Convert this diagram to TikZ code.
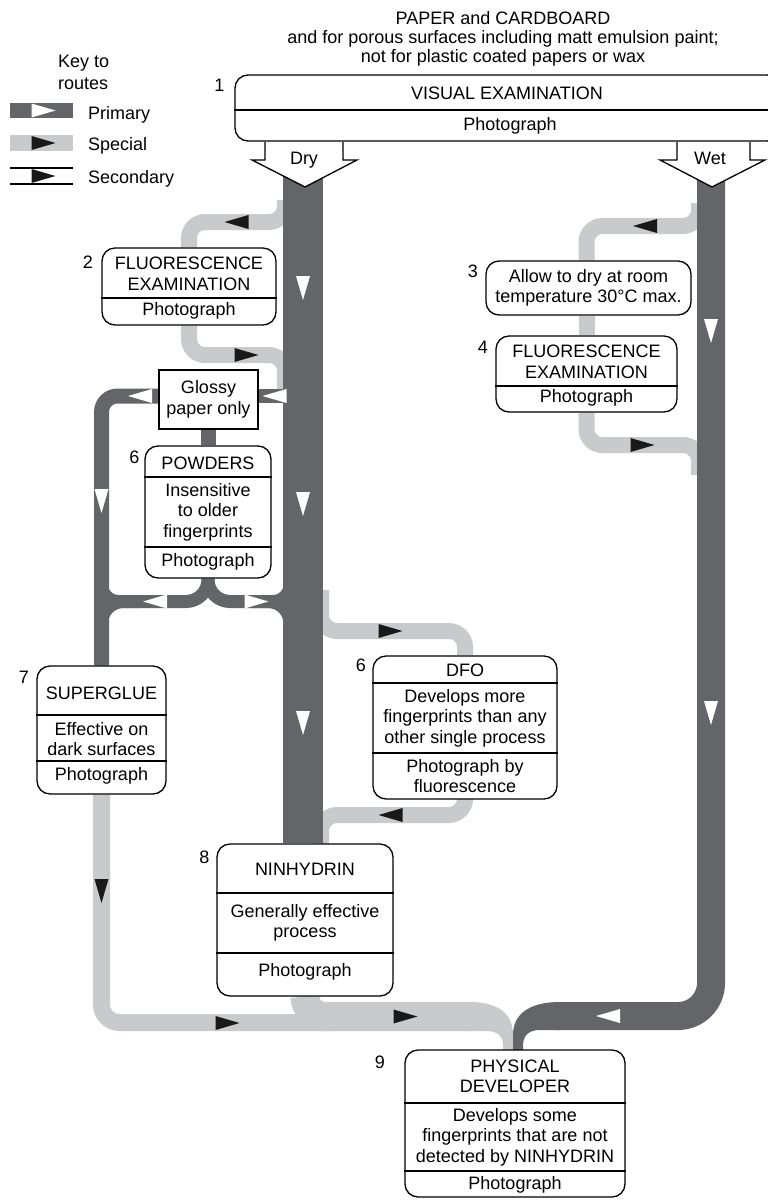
\documentclass[tikz,border=0pt]{standalone}
\usepackage{fontspec}
\setmainfont{Liberation Sans}
\usepackage{tikz}
\definecolor{RouteDark}{RGB}{100,101,104}
\definecolor{RouteLight}{RGB}{201,202,204}
\pgfdeclarelayer{routes}
\pgfsetlayers{routes,main}
\tikzset{
  box/.style={draw=black,fill=white,line width=1.3pt,rounded corners=13pt,inner sep=0pt,align=center},
  plainbox/.style={draw=black,fill=white,line width=1.3pt,inner sep=0pt,align=center},
  rule/.style={draw=black,line width=1.1pt},
  txt/.style={align=center,inner sep=0pt},
  num/.style={inner sep=0pt},
  prim/.style={draw=RouteDark,line width=15pt,rounded corners=16pt},
  spec/.style={draw=RouteLight,line width=16pt,rounded corners=16pt},
  bigarrow/.style={draw=black,fill=white,line width=1.3pt},
}
\tikzset{parr/.pic={\fill[white] (-12,-7) -- (12,0) -- (-12,7) -- cycle;},
  sarr/.pic={\fill[black!90] (-12,-7) -- (12,0) -- (-12,7) -- cycle;}}

\begin{document}
\begin{tikzpicture}[x=1pt,y=-1pt,font=\fontsize{18}{20.5}\selectfont]
\useasboundingbox (0,0) rectangle (768,1200);

% 1 visual examination
\node[box,minimum width=545pt,minimum height=66pt] (visual) at (507.5,108) {};
\draw[rule] (visual.west |- 0,110) -- (visual.east |- 0,110);
\node[txt] (visualname) at (507,93) {VISUAL EXAMINATION};
\node[txt] (visualphoto) at (510,126) {Photograph};
\node[num] (n1) at (219.5,85) {1};

% 2 fluorescence, dry side
\node[box,minimum width=174pt,minimum height=77pt] (fluordry) at (189,286.5) {};
\draw[rule] (fluordry.west |- 0,298) -- (fluordry.east |- 0,298);
\node[txt] (fluordryname) at (189,274) {FLUORESCENCE\\EXAMINATION};
\node[txt] (fluordryphoto) at (189,311) {Photograph};
\node[num] (n2) at (88,262.5) {2};

% glossy paper
\node[plainbox,minimum width=99pt,minimum height=59pt] (glossy) at (208.5,399.5) {Glossy\\paper only};

% 6 powders
\node[box,minimum width=126pt,minimum height=132pt] (powders) at (208,512) {};
\draw[rule] (powders.west |- 0,477) -- (powders.east |- 0,477);
\draw[rule] (powders.west |- 0,547) -- (powders.east |- 0,547);
\node[txt] (powdersname) at (208,463) {POWDERS};
\node[txt] (powdersnote) at (208,512) {Insensitive\\to older\\fingerprints};
\node[txt] (powdersphoto) at (208,562) {Photograph};
\node[num] (n6a) at (134.5,457) {6};

% 3 drying
\node[box,minimum width=205pt,minimum height=54pt] (drying) at (588.5,288) {Allow to dry at room\\temperature 30°C max.};
\node[num] (n3) at (473,271) {3};

% 4 fluorescence, wet side
\node[box,minimum width=181pt,minimum height=76pt] (fluorwet) at (586.5,374) {};
\draw[rule] (fluorwet.west |- 0,386) -- (fluorwet.east |- 0,386);
\node[txt] (fluorwetname) at (586.5,362) {FLUORESCENCE\\EXAMINATION};
\node[txt] (fluorwetphoto) at (586.5,398) {Photograph};
\node[num] (n4) at (483,347) {4};

% 7 superglue
\node[box,minimum width=129pt,minimum height=128pt] (glue) at (101.5,730) {};
\draw[rule] (glue.west |- 0,715) -- (glue.east |- 0,715);
\draw[rule] (glue.west |- 0,761) -- (glue.east |- 0,761);
\node[txt] (gluename) at (101.5,693) {SUPERGLUE};
\node[txt] (gluenote) at (101.5,739) {Effective on\\dark surfaces};
\node[txt] (gluephoto) at (101.5,776) {Photograph};
\node[num] (n7) at (24,677.5) {7};

% 6 DFO
\node[box,minimum width=184pt,minimum height=143pt] (dfo) at (465,727.5) {};
\draw[rule] (dfo.west |- 0,683) -- (dfo.east |- 0,683);
\draw[rule] (dfo.west |- 0,753) -- (dfo.east |- 0,753);
\node[txt] (dfoname) at (465,670) {DFO};
\node[txt] (dfonote) at (465,718) {Develops more\\fingerprints than any\\other single process};
\node[txt] (dfophoto) at (465,776) {Photograph by\\fluorescence};
\node[num] (n6b) at (361,665) {6};

% 8 ninhydrin
\node[box,minimum width=176pt,minimum height=152pt] (nin) at (305,920) {};
\draw[rule] (nin.west |- 0,893) -- (nin.east |- 0,893);
\draw[rule] (nin.west |- 0,953) -- (nin.east |- 0,953);
\node[txt] (ninname) at (305,869) {NINHYDRIN};
\node[txt] (ninnote) at (305,923) {Generally effective\\process};
\node[txt] (ninphoto) at (305,972) {Photograph};
\node[num] (n8) at (204.5,857.5) {8};

% 9 physical developer
\node[box,minimum width=220pt,minimum height=147pt] (pd) at (515,1123.5) {};
\draw[rule] (pd.west |- 0,1103) -- (pd.east |- 0,1103);
\draw[rule] (pd.west |- 0,1171) -- (pd.east |- 0,1171);
\node[txt] (pdname) at (515,1076.5) {PHYSICAL\\DEVELOPER};
\node[txt] (pdnote) at (515,1137) {Develops some\\fingerprints that are not\\detected by NINHYDRIN};
\node[txt] (pdphoto) at (515,1185) {Photograph};
\node[num] (n9) at (380,1062.5) {9};

\begin{pgfonlayer}{routes}
% special routes
\coordinate (dryout) at (285,200);
\coordinate (dryturn) at (285,222);
\draw[spec] (dryout) -- (dryturn) -| (fluordry.north);
\coordinate (dryback) at (285,355);
\coordinate (dryin) at (285,390);
\draw[spec] (fluordry.south) |- (dryback) -- (dryin);
\coordinate (wetout) at (699,203);
\coordinate (wetturn) at (699,226);
\draw[spec] (wetout) -- (wetturn) -| (fluorwet.north |- drying.north);
\draw[spec] (fluorwet.north |- drying.south) -- (fluorwet.north);
\coordinate (wetback) at (699,445);
\coordinate (wetin) at (699,475);
\draw[spec] (fluorwet.south) |- (wetback) -- (wetin);
\coordinate (dfoout) at (321,590);
\coordinate (dfoturn) at (321,631);
\draw[spec] (dfoout) -- (dfoturn) -| (dfo.north);
\coordinate (dfoback) at (321,815);
\coordinate (dfoin) at (321,845);
\draw[spec] (dfo.south) |- (dfoback) -- (dfoin);
\coordinate (gluejoin) at (330,1022.5);
\draw[spec,line width=17pt,rounded corners=18pt] (glue.south) |- (gluejoin);
\coordinate (grayend) at (475,1016.5);
\draw[spec,line width=29pt,rounded corners=20pt] (nin.south) |- (grayend);
\fill[RouteLight] (470,1002) .. controls (500,1002) and (513,1015) .. (513,1035) -- (513,1052)
  -- (503,1052) -- (503,1046) .. controls (503,1037) and (499,1031) .. (486,1031) -- (470,1031) -- cycle;
% primary routes
\coordinate (drytop) at (303,165);
\draw[prim,line width=40pt] (drytop) -- (drytop |- nin.north);
\coordinate (wettop) at (711,165);
\coordinate (darkend) at (555,1016);
\draw[prim,line width=28pt,rounded corners=33pt] (wettop) |- (darkend);
\fill[RouteDark] (560,1002) .. controls (528,1002) and (513,1015) .. (513,1035) -- (513,1052)
  -- (523,1052) -- (523,1046) .. controls (523,1037) and (527,1030) .. (540,1030) -- (560,1030) -- cycle;
\coordinate (glossyin) at (290,396);
\draw[prim,line width=14pt] (glossyin) -- (glossyin -| glossy.east);
\draw[prim] (glossyin -| glossy.west) -| (glue.north);
\draw[prim] (powders.north |- glossy.south) -- (powders.north);
\coordinate (splitleft) at (101.5,601.5);
\coordinate (splitright) at (290,601.5);
\draw[prim,line width=13pt,rounded corners=22pt] (powders.south) |- (splitleft) -- (glue.north);
\draw[prim,line width=13pt,rounded corners=22pt] (powders.south) |- (splitright) -- (splitright |- 0,650);
% junction fillets
\draw[prim,line width=13pt,rounded corners=17pt] (splitleft |- 0,560) -- (splitleft) -- (140,601.5);
\draw[prim,line width=13pt,rounded corners=17pt] (splitright |- 0,560) -- (splitright) -- (250,601.5);
\end{pgfonlayer}

% dry and wet
\draw[bigarrow] (265,142) -- (265,160) -- (252,160) -- (305,187) -- (357,160) -- (343,160) -- (343,142);
\draw[bigarrow] (677,142) -- (677,160) -- (660,160) -- (712,187) -- (765,160) -- (750,160) -- (750,142);
\node[txt] (drylabel) at (304,160.5) {Dry};
\node[txt] (wetlabel) at (710,158.5) {Wet};

% route marks
\pic[rotate=-90] at (303,288) {parr};
\pic[rotate=-90] at (303,504) {parr};
\pic[rotate=-90] at (303,723) {parr};
\pic[rotate=-90] at (711,331) {parr};
\pic[rotate=-90] at (711,713) {parr};
\pic[rotate=180] at (608,1016) {parr};
\pic[rotate=180] at (274.5,396) {parr};
\pic[rotate=180] at (140,396) {parr};
\pic[rotate=-90] at (101.5,501) {parr};
\pic[rotate=180] at (155,601.5) {parr};
\pic at (256.5,601.5) {parr};
\pic[rotate=180] at (236.5,222) {sarr};
\pic at (246.5,355) {sarr};
\pic[rotate=180] at (645,226) {sarr};
\pic at (642.5,445) {sarr};
\pic at (390.5,631) {sarr};
\pic[rotate=180] at (390.5,815) {sarr};
\pic[rotate=-90] at (101.5,891) {sarr};
\pic at (227.5,1023) {sarr};
\pic at (405.5,1016.5) {sarr};

% key
\node[num,align=left,anchor=west,font=\fontsize{18}{22}\selectfont] (key) at (58,72.5) {Key to\\routes};
\fill[RouteDark] (10,103) rectangle (73,118);
\pic at (43.5,110.5) {parr};
\node[num,anchor=base west] (keyprim) at (88,119) {Primary};
\fill[RouteLight] (10,135) rectangle (73,151);
\pic at (43.5,143) {sarr};
\node[num,anchor=base west] (keyspec) at (88,150) {Special};
\draw[line width=1.2pt] (10,168) -- (73,168) (10,184) -- (73,184);
\pic at (43.5,176) {sarr};
\node[num,anchor=base west] (keysec) at (88,183) {Secondary};

% title
\node[txt,font=\fontsize{18}{18.7}\selectfont] (title) at (503,39) {PAPER and CARDBOARD\\and for porous surfaces including matt emulsion paint;\\not for plastic coated papers or wax};
\end{tikzpicture}
\end{document}
